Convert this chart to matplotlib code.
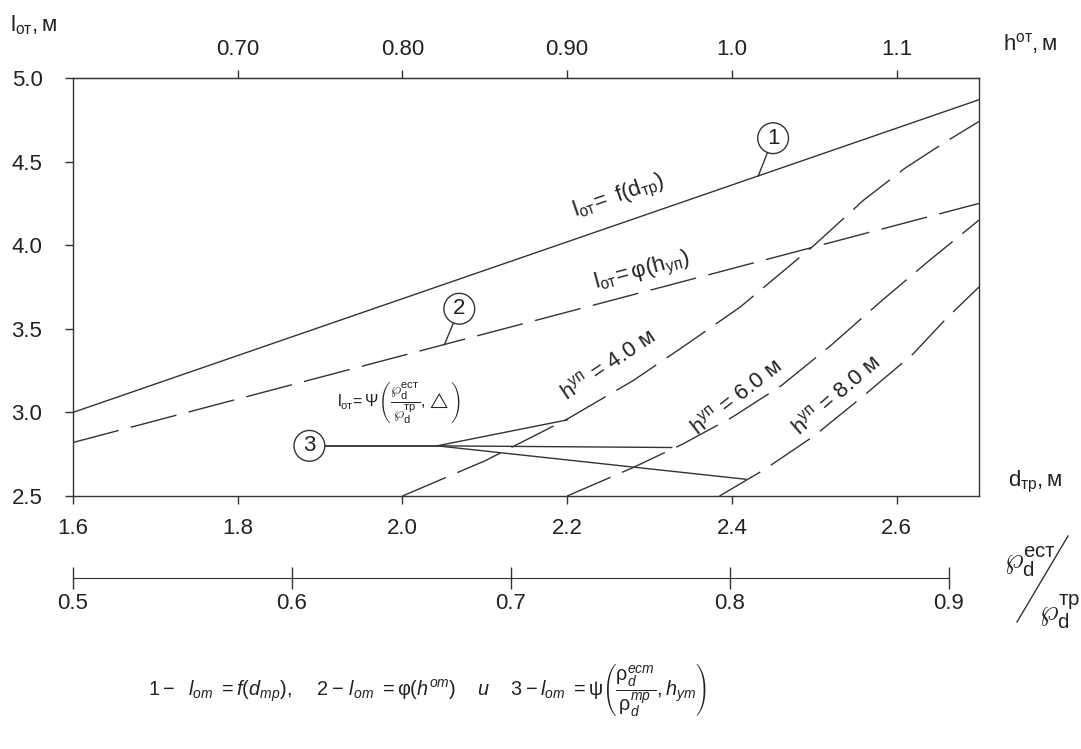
import matplotlib
matplotlib.use('Agg')
import matplotlib.pyplot as plt
from matplotlib.lines import Line2D

plt.rcParams['font.family'] = ['Liberation Sans', 'DejaVu Sans']
plt.rcParams['mathtext.fontset'] = 'custom'
plt.rcParams['mathtext.rm'] = 'Liberation Sans'
plt.rcParams['mathtext.it'] = 'Liberation Sans:italic'
plt.rcParams['mathtext.bf'] = 'Liberation Sans:bold'
plt.rcParams['mathtext.sf'] = 'Liberation Sans'
plt.rcParams['lines.scale_dashes'] = False

# ---- data ----
d_tr = [1.6, 2.7]                      # d_тр, м
l_f_dtr = [3.0, 4.87]                  # curve 1: l_от = f(d_тр)
l_phi_h = [2.82, 4.25]                 # curve 2: l_от = φ(h_уп)

d_h40 = [2.0, 2.1, 2.2, 2.28, 2.34, 2.41, 2.50, 2.56, 2.61, 2.66, 2.70]
l_h40 = [2.5, 2.71, 2.96, 3.19, 3.39, 3.63, 4.00, 4.27, 4.46, 4.62, 4.74]
d_h60 = [2.2, 2.28, 2.34, 2.40, 2.46, 2.52, 2.58, 2.64, 2.70]
l_h60 = [2.5, 2.67, 2.81, 2.97, 3.16, 3.40, 3.66, 3.91, 4.15]
d_h80 = [2.385, 2.44, 2.50, 2.56, 2.62, 2.66, 2.70]
l_h80 = [2.5, 2.66, 2.86, 3.10, 3.35, 3.56, 3.75]

y_ticks = [2.5, 3.0, 3.5, 4.0, 4.5, 5.0]
x_ticks = [1.6, 1.8, 2.0, 2.2, 2.4, 2.6]
h_ticks = [0.70, 0.80, 0.90, 1.0, 1.1]
h_labels = ['0.70', '0.80', '0.90', '1.0', '1.1']
rho_ticks = [0.5, 0.6, 0.7, 0.8, 0.9]

LC = '#333333'
TC = '#222222'
FS = 16
W, H = 1081, 749

fig = plt.figure(figsize=(W / 100, H / 100), dpi=100)
ax = fig.add_axes([73 / W, 1 - 496 / H, (979 - 73) / W, (496 - 78) / H])
ax.set_xlim(1.6, 2.7)
ax.set_ylim(2.5, 5.0)

solid = dict(color=LC, lw=1.0)
dash = dict(color=LC, lw=1.0, dashes=(34, 9))

ax.plot(d_tr, l_f_dtr, **solid)
ax.plot(d_tr, l_phi_h, **dash)
ax.plot(d_h40, l_h40, **dash)
ax.plot(d_h60, l_h60, **dash)
ax.plot(d_h80, l_h80, **dash)

# axes styling
for s in ax.spines.values():
    s.set_color(LC)
    s.set_linewidth(1.0)
ax.set_yticks(y_ticks)
ax.set_yticklabels([f'{v:.1f}' for v in y_ticks])
ax.set_xticks(x_ticks)
ax.set_xticklabels([f'{v:.1f}' for v in x_ticks])
ax.tick_params(axis='y', direction='out', length=6, width=1, color=LC,
               labelsize=FS, labelcolor=TC, pad=16)
ax.tick_params(axis='x', direction='out', length=6, width=1, color=LC,
               labelsize=FS, labelcolor=TC, pad=10)

top = ax.secondary_xaxis('top', functions=(lambda d: 0.70 + (d - 1.8) * 0.5,
                                           lambda h: 1.8 + (h - 0.70) * 2.0))
top.set_xticks(h_ticks)
top.set_xticklabels(h_labels)
top.tick_params(direction='out', length=6, width=1, color=LC,
                labelsize=FS, labelcolor=TC, pad=7)
top.spines['top'].set_color(LC)

# density ratio scale below
ax3 = fig.add_axes([73 / W, 1 - 578 / H, (949 - 73) / W, 0.0001])
ax3.set_xlim(0.5, 0.9)
ax3.set_facecolor('none')
for k in ['left', 'right', 'top']:
    ax3.spines[k].set_visible(False)
ax3.spines['bottom'].set_color(LC)
ax3.set_yticks([])
ax3.set_xticks(rho_ticks)
ax3.set_xticklabels([f'{v:.1f}' for v in rho_ticks])
ax3.tick_params(axis='x', direction='inout', length=16, width=1, color=LC,
                labelsize=FS, labelcolor=TC, pad=3)

# curve labels
ax.text(2.263, 4.29, r'$\mathrm{l}_{\mathrm{от}}\!\mathrm{=\ f(d}_{\mathrm{тр}}\mathrm{)}$',
        fontsize=FS, color=TC, rotation=19, ha='center', va='center',
        rotation_mode='anchor')
ax.text(2.291, 3.84, r'$\mathrm{l}_{\mathrm{от}}\!\mathrm{=φ(h}_{\mathrm{уп}}\mathrm{)}$',
        fontsize=FS, color=TC, rotation=15, ha='center', va='center',
        rotation_mode='anchor')
ax.text(2.25, 3.28, r'$\mathrm{h}^{\mathrm{уп}}\mathrm{\,=\,4.0\ м}$',
        fontsize=FS, color=TC, rotation=34, ha='center', va='center',
        rotation_mode='anchor')
ax.text(2.406, 3.09, r'$\mathrm{h}^{\mathrm{уп}}\mathrm{\,=\,6.0\ м}$',
        fontsize=FS, color=TC, rotation=38, ha='center', va='center',
        rotation_mode='anchor')
ax.text(2.527, 3.10, r'$\mathrm{h}^{\mathrm{уп}}\mathrm{\,=\,8.0\ м}$',
        fontsize=FS, color=TC, rotation=41, ha='center', va='center',
        rotation_mode='anchor')
ax.text(1.996, 3.06,
        r'$\mathrm{l}_{\mathrm{от}}\!\mathrm{=}\mathrm{Ψ}\left(\dfrac{\wp_{\mathrm{d}}^{\mathrm{ест}}}{\wp_{\mathrm{d}}^{\mathrm{тр}}},\triangle\right)$',
        fontsize=11.5, color=TC, ha='center', va='center')

# numbered circles with leaders
circ = dict(boxstyle='circle,pad=0.22', fc='white', ec=LC, lw=1.0)
ax.plot([2.45, 2.432], [4.64, 4.414], color=LC, lw=1.0, zorder=1)
ax.text(2.45, 4.64, '1', fontsize=FS, color=TC, ha='center', va='center', bbox=circ, zorder=5)
ax.plot([2.069, 2.051], [3.62, 3.406], color=LC, lw=1.0, zorder=1)
ax.text(2.069, 3.62, '2', fontsize=FS, color=TC, ha='center', va='center', bbox=circ, zorder=5)
ax.plot([1.887, 2.042], [2.80, 2.80], color=LC, lw=1.3, zorder=1)
for tx, ty in [(2.2, 2.955), (2.327, 2.79), (2.417, 2.6)]:
    ax.plot([2.042, tx], [2.80, ty], color=LC, lw=1.0, zorder=1)
ax.text(1.887, 2.80, '3', fontsize=FS, color=TC, ha='center', va='center', bbox=circ, zorder=5)

# axis titles
fig.text(10 / W, 1 - 25 / H, r'$\mathrm{l}_{\mathrm{от}}\mathrm{,м}$', fontsize=FS, color=TC,
         ha='left', va='center')
fig.text(1030 / W, 1 - 44 / H, r'$\mathrm{h}^{\mathrm{от}}\mathrm{,м}$', fontsize=FS, color=TC,
         ha='center', va='center')
fig.text(1035 / W, 1 - 482 / H, r'$\mathrm{d}_{\mathrm{тр}}\mathrm{,м}$', fontsize=FS, color=TC,
         ha='center', va='center')
fig.text(1030 / W, 1 - 562 / H, r'$\wp_{\mathrm{d}}^{\mathrm{ест}}$', fontsize=21, color=TC,
         ha='center', va='center')
fig.text(1060 / W, 1 - 612 / H, r'$\wp_{\mathrm{d}}^{\mathrm{тр}}$', fontsize=21, color=TC,
         ha='center', va='center')
fig.add_artist(Line2D([1017 / W, 1068 / W], [1 - 622 / H, 1 - 536 / H], color=LC, lw=1.0,
                      transform=fig.transFigure))

# legend formula at bottom
fig.text(427 / W, 1 - 690 / H,
         r'$\mathrm{1-}\ \ l_{om}\ =f(d_{mp}),\quad\ \mathrm{2-}\,l_{om}\ =\mathrm{φ}(h^{om})\quad\ u\quad\ \mathrm{3-}l_{om}\ =\mathrm{ψ}\left(\dfrac{\mathrm{ρ}_d^{ecm}}{\mathrm{ρ}_d^{mp}},h_{ym}\right)$',
         fontsize=14.3, color=TC, ha='center', va='center')

fig.savefig('out.png', dpi=100)
